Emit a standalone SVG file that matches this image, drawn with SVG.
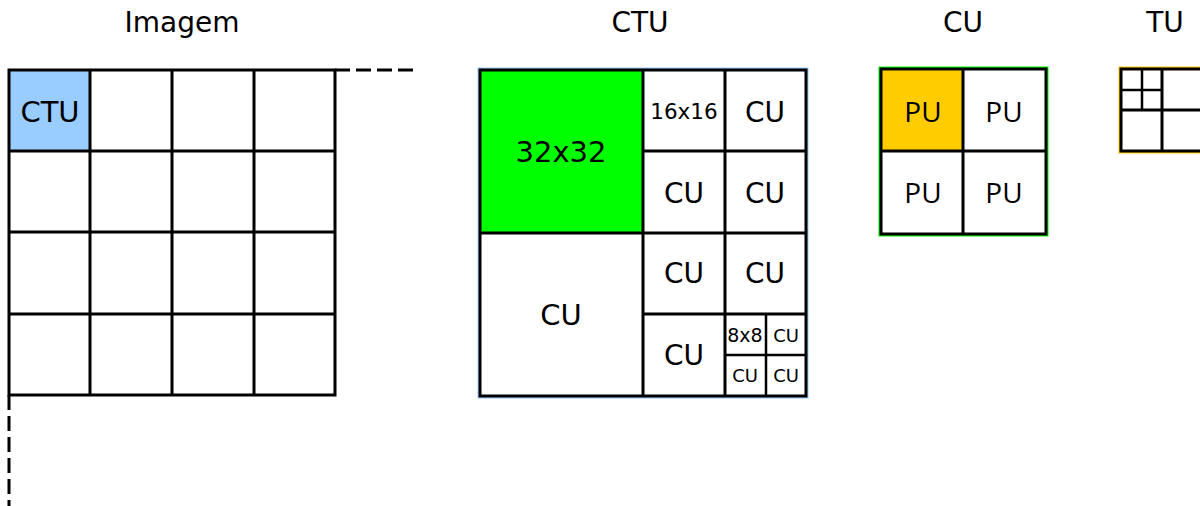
<svg xmlns="http://www.w3.org/2000/svg" width="1200" height="506" viewBox="0 0 1200 506">
<style>
.ln{stroke:#000;stroke-width:3;fill:none}
.ln2{stroke:#000;stroke-width:2.5;fill:none}
.dash{stroke:#000;stroke-width:3;fill:none;stroke-dasharray:15 6}
.t{font-family:"DejaVu Sans",sans-serif;fill:#000;text-anchor:middle}
.h{font-family:"DejaVu Sans",sans-serif;font-size:28px;fill:#000;text-anchor:middle}
.pu{font-family:"Open Sans",sans-serif;font-size:28px;fill:#000;text-anchor:middle}
</style>
<rect width="1200" height="506" fill="#fff"/>
<g id="titles">
<text class="h" x="182" y="32">Imagem</text>
<text class="h" x="640" y="32">CTU</text>
<text class="h" x="963" y="32">CU</text>
<text class="h" x="1165" y="32">TU</text>
</g>
<g id="connectors">
<path class="dash" d="M335 70 H413"/>
<path class="dash" d="M9 395 V506"/>
</g>
<g id="imagem">
<rect x="9" y="70" width="81" height="81" fill="#99CCFF"/>
<rect class="ln" x="9" y="70" width="326" height="325"/>
<path class="ln" d="M90 70V395M172 70V395M254 70V395M9 151H335M9 232H335M9 314H335"/>
<text class="t" x="50" y="122" font-size="29">CTU</text>
</g>
<g id="ctu">
<rect x="480" y="70" width="163" height="163" fill="#00FF00"/>
<rect x="478.5" y="68.5" width="329" height="329" fill="none" stroke="#99CCFF" stroke-width="2"/>
<rect class="ln" x="480" y="70" width="326" height="326"/>
<path class="ln" d="M643 70V396M725 70V396M480 233H806M643 151H806M643 314H806"/>
<path class="ln2" d="M766 314V396M725 355H806"/>
<text class="t" x="561" y="162" font-size="29">32x32</text>
<text class="t" x="561" y="325" font-size="29">CU</text>
<text class="t" x="684" y="119" font-size="21.5">16x16</text>
<text class="t" x="765" y="122" font-size="28">CU</text>
<text class="t" x="684" y="203" font-size="28">CU</text>
<text class="t" x="765" y="203" font-size="28">CU</text>
<text class="t" x="684" y="283" font-size="28">CU</text>
<text class="t" x="765" y="283" font-size="28">CU</text>
<text class="t" x="684" y="365" font-size="28">CU</text>
<text class="t" x="745" y="342" font-size="19">8x8</text>
<text class="t" x="786" y="342" font-size="18">CU</text>
<text class="t" x="745" y="382" font-size="18">CU</text>
<text class="t" x="786" y="382" font-size="18">CU</text>
</g>
<g id="cu">
<rect x="881" y="69" width="82" height="82" fill="#FFCC00"/>
<rect x="879.5" y="67.5" width="168" height="168" fill="none" stroke="#00FF00" stroke-width="2"/>
<rect class="ln" x="881" y="69" width="165" height="165"/>
<path class="ln" d="M963 69V234M881 151H1046"/>
<text class="pu" x="923" y="122">PU</text>
<text class="pu" x="1004" y="122">PU</text>
<text class="pu" x="923" y="203">PU</text>
<text class="pu" x="1004" y="203">PU</text>
</g>
<g id="tu">
<rect x="1119.5" y="67.5" width="90" height="85" fill="none" stroke="#FFCC00" stroke-width="2"/>
<rect class="ln" x="1121" y="69" width="90" height="82"/>
<path class="ln" d="M1162 69V151M1121 110H1200"/>
<path class="ln2" d="M1142 69V110M1121 90H1162"/>
</g>
</svg>
